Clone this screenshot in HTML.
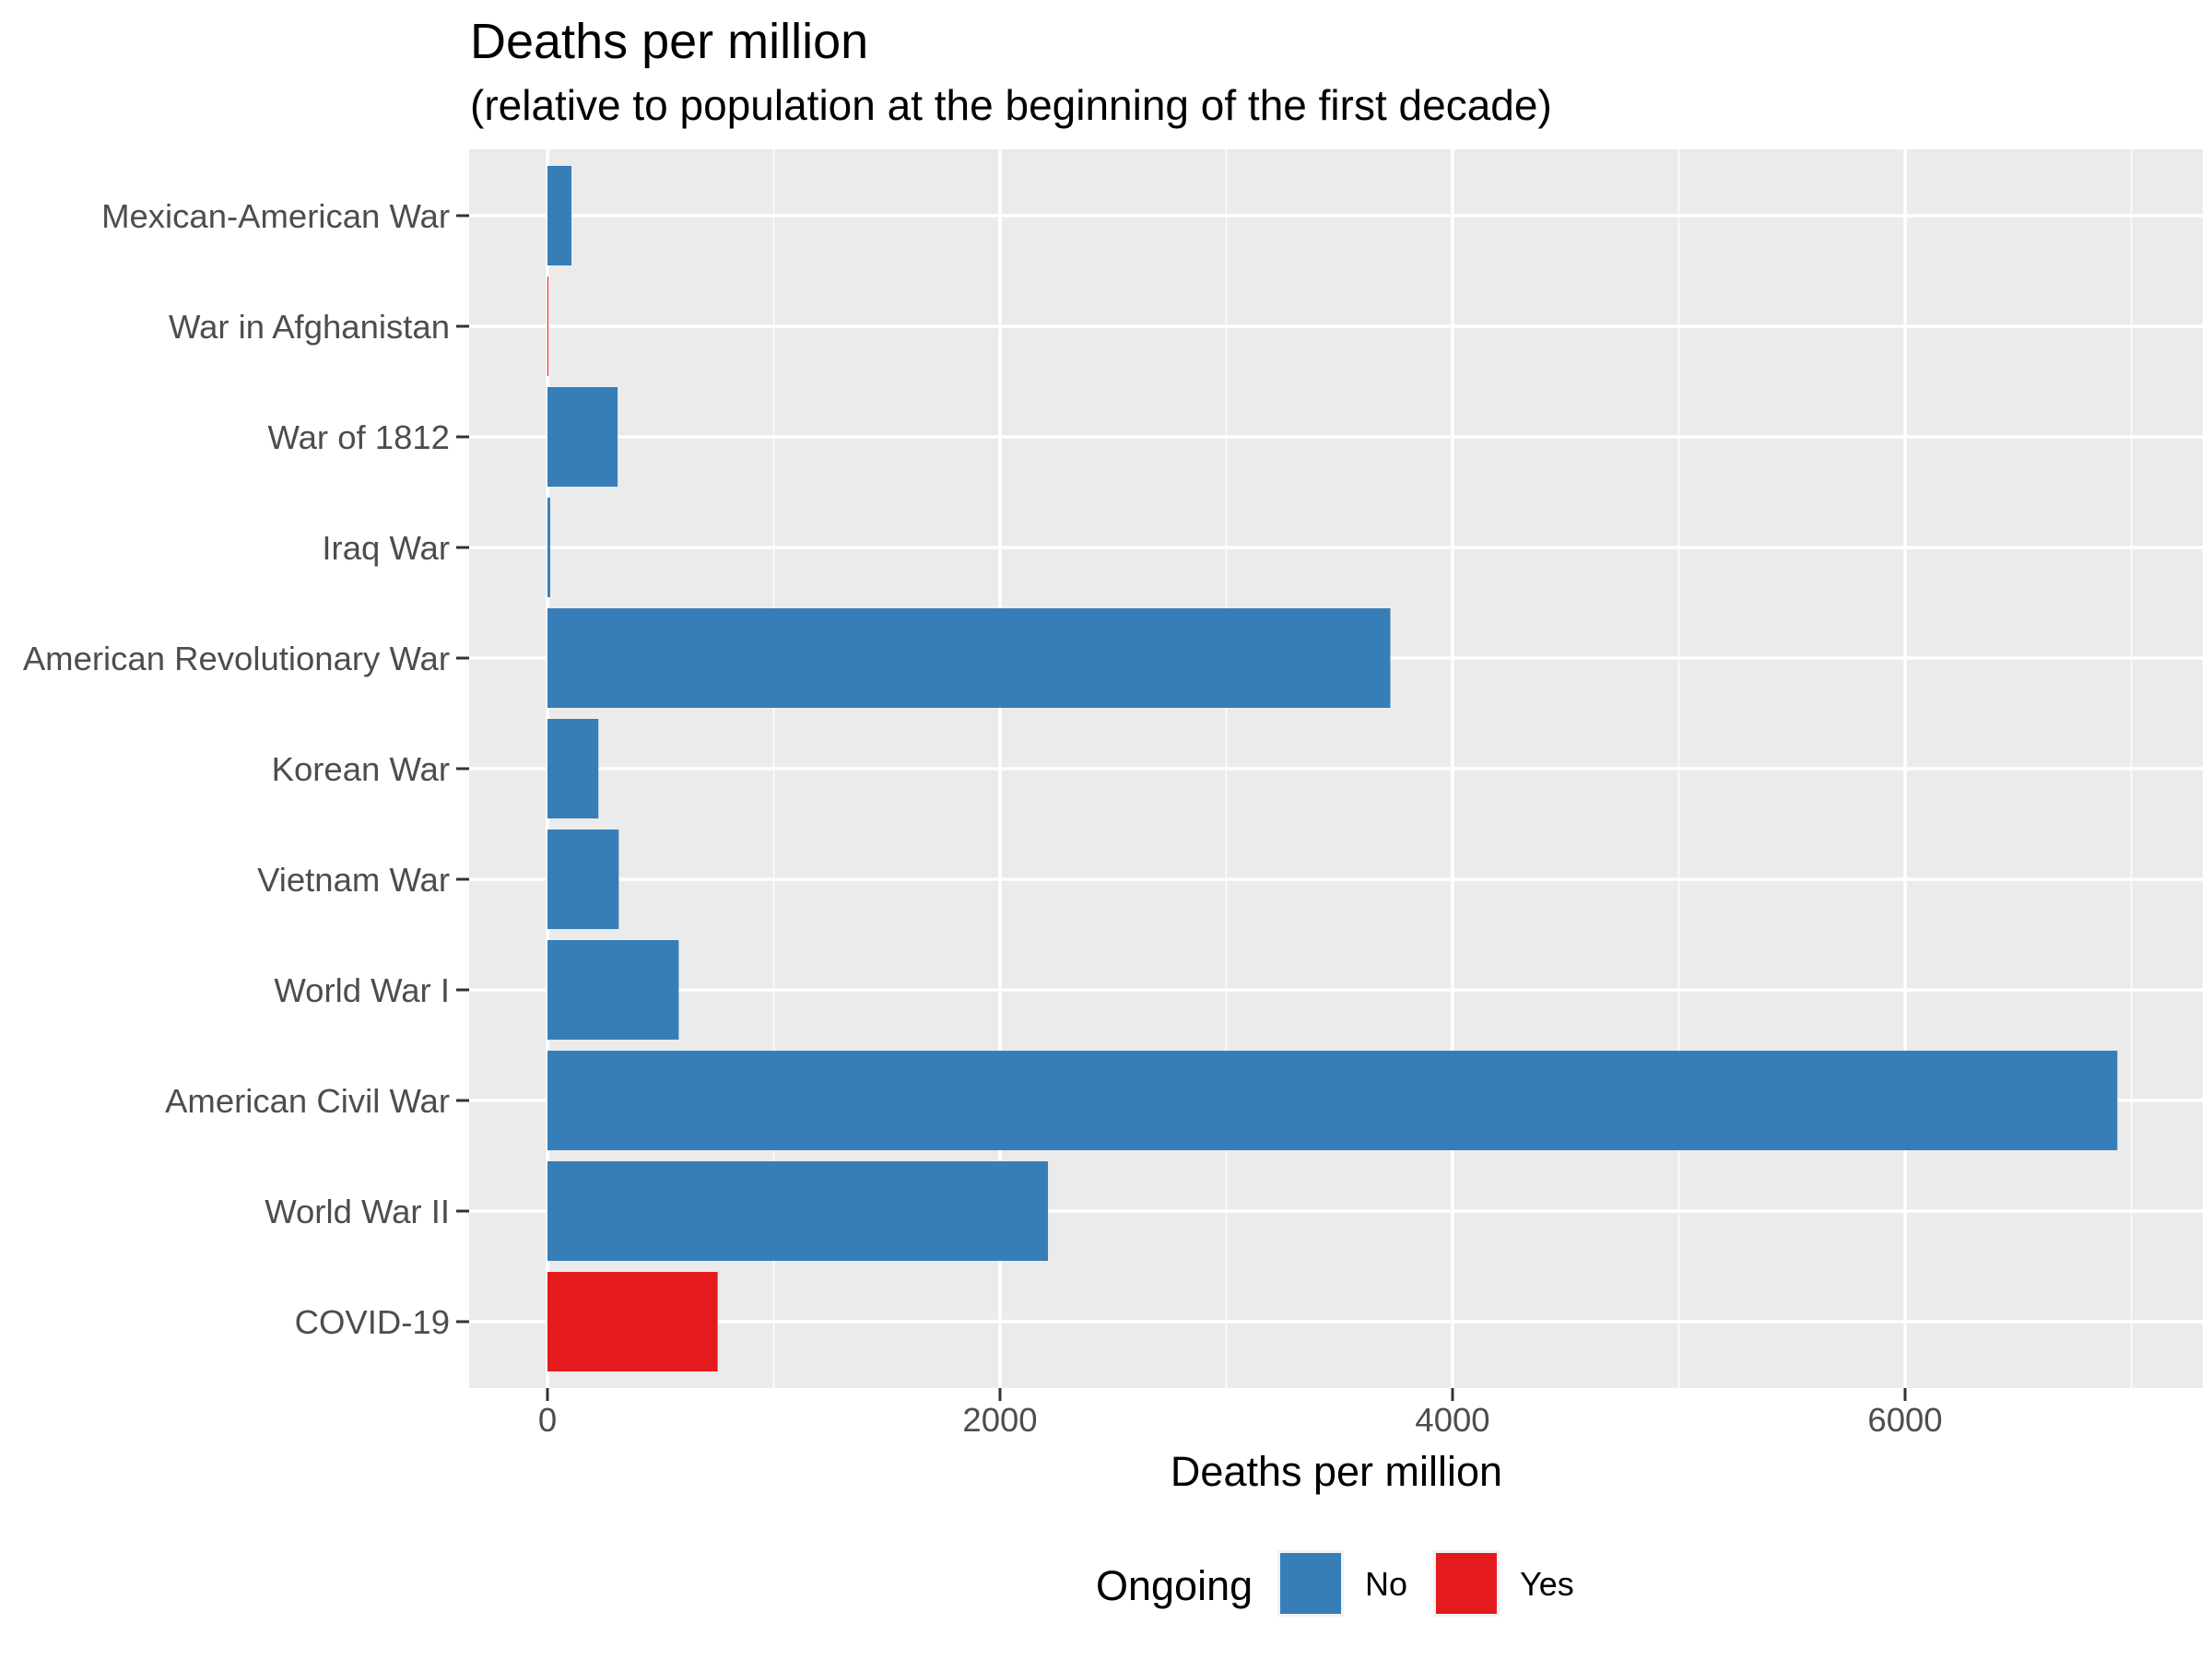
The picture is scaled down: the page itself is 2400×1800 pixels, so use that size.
<!DOCTYPE html>
<html><head><meta charset="utf-8"><style>
body{margin:0;background:#fff;}
svg{display:block;font-family:"Liberation Sans",Arial,sans-serif;}
</style></head><body>
<svg id="chart" width="2400" height="1800" viewBox="0 0 2400 1800" xmlns="http://www.w3.org/2000/svg">
<text x="510" y="63" font-size="54" fill="#000">Deaths per million</text>
<text x="510" y="130" font-size="46" fill="#000">(relative to population at the beginning of the first decade)</text>
<rect x="509" y="162" width="1881" height="1344" fill="#EBEBEB"/>
<g id="grid"></g>
<g id="bars"></g>
<g id="yaxis"></g>
<g id="xaxis"></g>
<text x="1450" y="1612" font-size="45" text-anchor="middle" fill="#000">Deaths per million</text>
<g>
<text x="1189" y="1736" font-size="45" fill="#000">Ongoing</text>
<rect x="1386" y="1682" width="72" height="72" fill="#F2F2F2"/>
<rect x="1389" y="1685" width="66" height="66" fill="#377EB8"/>
<text x="1481" y="1731" font-size="36" fill="#000">No</text>
<rect x="1555" y="1682" width="72" height="72" fill="#F2F2F2"/>
<rect x="1558" y="1685" width="66" height="66" fill="#E41A1C"/>
<text x="1649" y="1731" font-size="36" fill="#000">Yes</text>
</g>
</svg>
<script>
const categories = ["Mexican-American War","War in Afghanistan","War of 1812","Iraq War","American Revolutionary War","Korean War","Vietnam War","World War I","American Civil War","World War II","COVID-19"];
const values = [106, 4, 310, 12, 3725, 225, 315, 580, 6938, 2212, 752];
const ongoing = ["No","Yes","No","No","No","No","No","No","No","No","Yes"];
const majorTicks = [0, 2000, 4000, 6000];
const minorTicks = [1000, 3000, 5000, 7000];
const colors = {No:"#377EB8", Yes:"#E41A1C"};
const NS = "http://www.w3.org/2000/svg";
const x = v => 594 + v * 0.2455;
const y = i => 234 + i * 120;
const bw = 108;
function mk(tag, attrs, parent){const e=document.createElementNS(NS,tag);for(const k in attrs)e.setAttribute(k,attrs[k]);document.getElementById(parent).appendChild(e);return e;}
minorTicks.forEach(t=>{
  const l=mk("line",{x1:x(t),x2:x(t),y1:162,y2:1506,stroke:"#fff","stroke-width":1.3},"grid");
  
  
});
majorTicks.forEach(t=>{
  const l=mk("line",{x1:x(t),x2:x(t),y1:162,y2:1506,stroke:"#fff","stroke-width":3.5},"grid");
  
  
  const tk=mk("line",{x1:x(t),x2:x(t),y1:1506,y2:1520,stroke:"#333","stroke-width":3},"xaxis");
  
  
  const tx=mk("text",{x:x(t),y:1553,"font-size":36.5,"text-anchor":"middle",fill:"#4D4D4D"},"xaxis");
  tx.textContent=t;
  
  
});
categories.forEach((c,i)=>{
  const g=mk("line",{x1:509,x2:2390,y1:y(i),y2:y(i),stroke:"#fff","stroke-width":3.5},"grid");
  
  
  const b=mk("rect",{x:x(0),y:y(i)-bw/2,width:Math.max(1,x(values[i])-x(0)),height:bw,fill:colors[ongoing[i]]},"bars");
  
  
  const tk=mk("line",{x1:495,x2:509,y1:y(i),y2:y(i),stroke:"#333","stroke-width":3},"yaxis");
  
  
  const tx=mk("text",{x:488,y:y(i)+13,"font-size":36.5,"text-anchor":"end",fill:"#4D4D4D"},"yaxis");
  tx.textContent=c;
  
  
});
</script>
</body></html>
